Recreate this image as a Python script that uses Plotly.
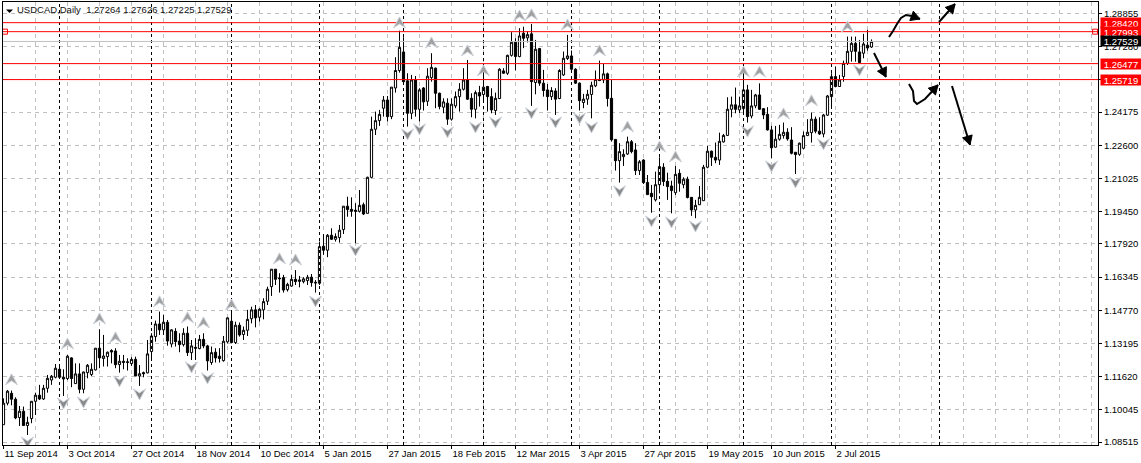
import math
import plotly.graph_objects as go

W, H = 1141, 463
L, R, T, B = 3, 43, 2, 18

open_ = [
1.0934,1.1036,1.1083,1.1055,1.0968,1.0998,1.0930,1.0963,1.1045,1.1074,
1.1056,1.1107,1.1146,1.1159,1.1197,1.1159,1.1153,1.1251,1.1129,1.1175,
1.1102,1.1181,1.1172,1.1194,1.1297,1.1248,1.1257,1.1286,1.1284,1.1219,
1.1235,1.1229,1.1224,1.1244,1.1165,1.1181,1.1180,1.1281,1.1352,1.1412,
1.1384,1.1420,1.1317,1.1377,1.1331,1.1314,1.1368,1.1276,1.1301,1.1295,
1.1339,1.1308,1.1229,1.1278,1.1259,1.1238,1.1327,1.1425,1.1324,1.1406,
1.1362,1.1382,1.1437,1.1479,1.1444,1.1479,1.1520,1.1589,1.1672,1.1630,
1.1632,1.1575,1.1592,1.1624,1.1621,1.1613,1.1618,1.1634,1.1610,1.1605,
1.1781,1.1762,1.1833,1.1814,1.1822,1.1860,1.1971,1.1956,1.1952,1.1947,
1.1978,1.1937,1.2108,1.2336,1.2377,1.2436,1.2475,1.2396,1.2532,1.2615,
1.2703,1.2566,1.2412,1.2570,1.2431,1.2532,1.2469,1.2581,1.2626,1.2507,
1.2441,1.2460,1.2384,1.2447,1.2491,1.2526,1.2570,1.2483,1.2431,1.2510,
1.2501,1.2539,1.2491,1.2425,1.2482,1.2613,1.2602,1.2687,1.2749,1.2681,
1.2792,1.2770,1.2789,1.2558,1.2719,1.2555,1.2523,1.2491,1.2518,1.2482,
1.2594,1.2672,1.2684,1.2621,1.2555,1.2463,1.2479,1.2501,1.2542,1.2573,
1.2570,1.2599,1.2483,1.2288,1.2187,1.2206,1.2219,1.2277,1.2238,1.2140,
1.2190,1.2084,1.2032,1.2001,1.2073,1.2156,1.2089,1.2067,1.2035,1.2127,
1.2073,1.2099,1.2013,1.1953,1.1978,1.1997,1.2156,1.2232,1.2203,1.2190,
1.2276,1.2307,1.2431,1.2452,1.2428,1.2434,1.2523,1.2399,1.2447,1.2499,
1.2434,1.2407,1.2333,1.2251,1.2289,1.2306,1.2322,1.2285,1.2227,1.2217,
1.2246,1.2306,1.2320,1.2384,1.2327,1.2314,1.2403,1.2491,1.2586,1.2539,
1.2586,1.2649,1.2706,1.2744,1.2703,1.2697,1.2735,1.27264]

high = [
1.1059,1.1099,1.1096,1.1064,1.1023,1.1020,1.0972,1.1045,1.1086,1.1123,
1.1123,1.1170,1.1170,1.1222,1.1217,1.1197,1.1265,1.1254,1.1225,1.1225,
1.1186,1.1222,1.1225,1.1297,1.1387,1.1360,1.1281,1.1292,1.1297,1.1265,
1.1265,1.1249,1.1254,1.1257,1.1217,1.1186,1.1336,1.1368,1.1428,1.1471,
1.1455,1.1431,1.1387,1.1392,1.1368,1.1392,1.1400,1.1336,1.1344,1.1360,
1.1368,1.1313,1.1305,1.1297,1.1297,1.1355,1.1444,1.1471,1.1423,1.1419,
1.1400,1.1479,1.1494,1.1502,1.1487,1.1534,1.1589,1.1672,1.1672,1.1653,
1.1645,1.1608,1.1645,1.1668,1.1640,1.1634,1.1645,1.1649,1.1621,1.1803,
1.1839,1.1839,1.1866,1.1842,1.1882,1.1971,1.2016,1.2013,1.1985,1.2048,
1.1988,1.2111,1.2396,1.2420,1.2428,1.2494,1.2494,1.2536,1.2678,1.2804,
1.2773,1.2602,1.2594,1.2589,1.2531,1.2536,1.2626,1.2697,1.2629,1.2510,
1.2483,1.2483,1.2483,1.2515,1.2555,1.2626,1.2665,1.2507,1.2520,1.2542,
1.2634,1.2542,1.2531,1.2510,1.2626,1.2626,1.2690,1.2797,1.2768,1.2816,
1.2823,1.2800,1.2836,1.2760,1.2722,1.2618,1.2551,1.2536,1.2531,1.2621,
1.2705,1.2784,1.2710,1.2626,1.2558,1.2504,1.2523,1.2562,1.2615,1.2662,
1.2646,1.2605,1.2570,1.2290,1.2270,1.2241,1.2301,1.2285,1.2270,1.2190,
1.2194,1.2119,1.2072,1.2135,1.2203,1.2175,1.2130,1.2092,1.2162,1.2146,
1.2108,1.2111,1.2014,1.2001,1.2067,1.2167,1.2257,1.2235,1.2273,1.2320,
1.2314,1.2488,1.2491,1.2534,1.2491,1.2618,1.2547,1.2523,1.2504,1.2554,
1.2436,1.2441,1.2352,1.2352,1.2357,1.2368,1.2341,1.2346,1.2228,1.2273,
1.2325,1.2384,1.2415,1.2396,1.2393,1.2409,1.2499,1.2602,1.2634,1.2594,
1.2662,1.2776,1.2776,1.2776,1.2760,1.2789,1.2808,1.27626]

low = [
1.0934,1.1026,1.1026,1.0960,1.0928,1.0928,1.0885,1.0941,1.0980,1.1051,
1.1051,1.1086,1.1123,1.1154,1.1154,1.1070,1.1146,1.1112,1.1127,1.1083,
1.1083,1.1154,1.1165,1.1191,1.1202,1.1210,1.1210,1.1225,1.1202,1.1181,
1.1197,1.1191,1.1213,1.1165,1.1118,1.1159,1.1178,1.1249,1.1328,1.1360,
1.1360,1.1309,1.1301,1.1305,1.1278,1.1305,1.1260,1.1241,1.1241,1.1292,
1.1297,1.1191,1.1218,1.1229,1.1229,1.1233,1.1320,1.1320,1.1317,1.1352,
1.1336,1.1355,1.1415,1.1396,1.1423,1.1434,1.1502,1.1545,1.1597,1.1561,
1.1561,1.1566,1.1589,1.1597,1.1586,1.1605,1.1597,1.1589,1.1561,1.1597,
1.1740,1.1729,1.1811,1.1803,1.1798,1.1839,1.1921,1.1921,1.1795,1.1941,
1.1929,1.1937,1.2104,1.2309,1.2352,1.2396,1.2373,1.2384,1.2510,1.2605,
1.2555,1.2349,1.2384,1.2396,1.2373,1.2425,1.2447,1.2562,1.2436,1.2431,
1.2412,1.2357,1.2377,1.2436,1.2420,1.2520,1.2475,1.2393,1.2388,1.2444,
1.2475,1.2420,1.2412,1.2404,1.2479,1.2599,1.2594,1.2681,1.2615,1.2678,
1.2721,1.2748,1.2447,1.2502,1.2542,1.2491,1.2425,1.2475,1.2404,1.2479,
1.2589,1.2665,1.2618,1.2551,1.2425,1.2436,1.2452,1.2388,1.2536,1.2567,
1.2555,1.2444,1.2278,1.2140,1.2083,1.2162,1.2214,1.2222,1.2119,1.2119,
1.2076,1.2024,1.1940,1.1993,1.2032,1.2067,1.2001,1.1937,1.2024,1.2040,
1.2056,1.2008,1.1925,1.1914,1.1977,1.1996,1.2151,1.2162,1.2175,1.2167,
1.2273,1.2304,1.2393,1.2412,1.2412,1.2415,1.2368,1.2388,1.2436,1.2428,
1.2384,1.2330,1.2198,1.2249,1.2282,1.2292,1.2282,1.2217,1.2124,1.2210,
1.2241,1.2304,1.2273,1.2317,1.2309,1.2298,1.2399,1.2441,1.2535,1.2539,
1.2562,1.2641,1.2657,1.2657,1.2649,1.2673,1.2709,1.27225]

close = [
1.1036,1.1093,1.1055,1.0966,1.0998,1.0930,1.0945,1.1045,1.1074,1.1056,
1.1107,1.1154,1.1164,1.1202,1.1159,1.1151,1.1259,1.1153,1.1175,1.1102,
1.1184,1.1216,1.1197,1.1297,1.1251,1.1260,1.1278,1.1279,1.1219,1.1235,
1.1230,1.1232,1.1244,1.1165,1.1176,1.1176,1.1270,1.1355,1.1412,1.1384,
1.1420,1.1331,1.1384,1.1328,1.1314,1.1368,1.1276,1.1308,1.1297,1.1339,
1.1308,1.1237,1.1276,1.1251,1.1248,1.1330,1.1441,1.1324,1.1406,1.1360,
1.1382,1.1434,1.1479,1.1441,1.1482,1.1518,1.1577,1.1672,1.1624,1.1627,
1.1573,1.1600,1.1624,1.1613,1.1615,1.1626,1.1634,1.1608,1.1607,1.1779,
1.1762,1.1833,1.1814,1.1827,1.1857,1.1971,1.1955,1.1947,1.1947,1.1975,
1.1934,1.2108,1.2336,1.2377,1.2407,1.2475,1.2396,1.2536,1.2615,1.2725,
1.2562,1.2412,1.2570,1.2431,1.2523,1.2466,1.2588,1.2630,1.2507,1.2444,
1.2466,1.2384,1.2455,1.2491,1.2526,1.2570,1.2479,1.2431,1.2510,1.2494,
1.2536,1.2491,1.2428,1.2483,1.2621,1.2602,1.2687,1.2749,1.2681,1.2779,
1.2768,1.2785,1.2562,1.2716,1.2555,1.2520,1.2491,1.2520,1.2479,1.2615,
1.2673,1.2684,1.2621,1.2555,1.2472,1.2479,1.2502,1.2545,1.2573,1.2567,
1.2599,1.2482,1.2286,1.2187,1.2230,1.2217,1.2277,1.2230,1.2140,1.2182,
1.2083,1.2026,1.2016,1.2073,1.2159,1.2088,1.2064,1.2045,1.2122,1.2080,
1.2099,1.2012,1.1953,1.1975,1.2013,1.2156,1.2232,1.2203,1.2190,1.2279,
1.2307,1.2431,1.2452,1.2431,1.2447,1.2523,1.2396,1.2447,1.2499,1.2431,
1.2404,1.2333,1.2248,1.2289,1.2312,1.2322,1.2290,1.2222,1.2216,1.2270,
1.2306,1.2322,1.2384,1.2327,1.2314,1.2404,1.2494,1.2586,1.2539,1.2570,
1.2649,1.2706,1.2744,1.2706,1.2653,1.2741,1.2722,1.27529]

date_labels = ["11 Sep 2014","3 Oct 2014","27 Oct 2014","18 Nov 2014","10 Dec 2014","5 Jan 2015",
               "27 Jan 2015","18 Feb 2015","12 Mar 2015","3 Apr 2015","27 Apr 2015","19 May 2015",
               "10 Jun 2015","2 Jul 2015"]
price_ticks = [1.28855,1.27280,1.25705,1.24175,1.22600,1.21025,1.19450,1.17920,1.16345,1.14770,
               1.13195,1.11620,1.10045,1.08515]
red_levels = [1.28420,1.27993,1.26477,1.25719]
bid_level = 1.27529
period_bars = [14,37,57,79,100,120,142,164,185,207,234]

up_x = [2,16,24,28,39,46,50,57,69,73,99,107,116,120,129,132,141,149,156,164,168,185,189,195,202,211]
up_y = [1.1147,1.1317,1.1436,1.1346,1.1517,1.1441,1.1417,1.1502,1.1721,1.1716,1.2841,1.2746,1.2708,
        1.2613,1.2874,1.2879,1.2831,1.2708,1.2347,1.2252,1.2205,1.2608,1.2608,1.2409,1.2471,1.2822]
dn_x = [6,15,20,29,34,47,51,78,88,101,104,111,118,123,132,138,144,147,154,162,167,173,186,192,198,205,214]
dn_y = [1.0852,1.1037,1.1042,1.1142,1.1080,1.1208,1.1156,1.1521,1.1763,1.2314,1.2338,1.2324,1.2347,
        1.2371,1.2414,1.2371,1.2390,1.2347,1.2044,1.1901,1.1896,1.1877,1.2328,1.2162,1.2086,1.2267,1.2618]

x_range = [-0.125, 273.625]
y_range = [1.08376, 1.29401]
PW, PH = W - L - R, H - T - B
def px(x): return (x - L) / PW
def py(y): return 1 - (y - T) / PH

bars = list(range(len(close)))
fig = go.Figure()
fig.add_trace(go.Candlestick(
    x=bars, open=open_, high=high, low=low, close=close,
    increasing=dict(line=dict(color="black", width=1), fillcolor="white"),
    decreasing=dict(line=dict(color="black", width=1), fillcolor="black"),
    whiskerwidth=0, showlegend=False, hoverinfo="skip"))

shapes = []
for b in period_bars:
    shapes.append(dict(type="line", xref="x", yref="paper", x0=b, x1=b, y0=0, y1=1,
                       line=dict(color="black", width=1, dash="3px,3px")))
shapes.append(dict(type="line", xref="paper", yref="y", x0=0, x1=1, y0=bid_level, y1=bid_level,
                   line=dict(color="#c0c0c0", width=1)))
for lv in red_levels:
    shapes.append(dict(type="line", xref="paper", yref="y", x0=0, x1=1, y0=lv, y1=lv,
                       line=dict(color="#ff0000", width=1)))

# fractal marks: notched arrowheads anchored on the data, sized in pixels
UP_PATH = "M 0 6 L 6 -5 L 0 -1 L -6 -5 Z"
DN_PATH = "M 0 -6 L 6 5 L 0 1 L -6 5 Z"
for xs, ys, path, fill in ((up_x, up_y, UP_PATH, "#a0a0a0"), (dn_x, dn_y, DN_PATH, "#8a8a8a")):
    for a, c in zip(xs, ys):
        shapes.append(dict(type="path", xref="x", yref="y", xsizemode="pixel", ysizemode="pixel",
                           xanchor=a, yanchor=c, path=path, fillcolor=fill,
                           line=dict(color="#cdd3db", width=1)))

def triangle(p0, p1, length=9, half=5):
    dx, dy = p1[0]-p0[0], p1[1]-p0[1]
    n = math.hypot(dx, dy); ux, uy = dx/n, dy/n
    bx, by = p1[0]-ux*length, p1[1]-uy*length
    pts = [p1, (bx-uy*half, by+ux*half), (bx+uy*half, by-ux*half)]
    return "M " + " L ".join(f"{px(a):.5f},{py(c):.5f}" for a, c in pts) + " Z"

strokes = [
    [(889,37),(893,31),(897,24),(901,18),(906,15),(912,16),(920,19)],
    [(939,22),(955,4)],
    [(874,53),(886,77)],
    [(909,84),(913,91),(914,101),(917,104),(925,99),(938,85)],
    [(952,86),(970,145)],
]
for s in strokes:
    path = "M " + " L ".join(f"{px(a):.5f},{py(c):.5f}" for a, c in s)
    shapes.append(dict(type="path", xref="paper", yref="paper", path=path,
                       line=dict(color="black", width=2)))
    shapes.append(dict(type="path", xref="paper", yref="paper", path=triangle(s[-2], s[-1]),
                       fillcolor="black", line=dict(color="black", width=1)))
shapes.append(dict(type="path", xref="paper", yref="paper",
                   path=f"M {px(6):.5f},{py(9.5):.5f} L {px(13):.5f},{py(9.5):.5f} L {px(9.5):.5f},{py(13):.5f} Z",
                   fillcolor="black", line=dict(width=0)))

# end handles of the selected level
fig.add_trace(go.Scatter(x=[0.375, 272.9], y=[red_levels[1]]*2, mode="markers", showlegend=False, hoverinfo="skip",
    marker=dict(symbol="square", size=5, color="white", line=dict(color="#ff0000", width=1))))

FONT = "Liberation Sans"
annotations = []
def level_label(v, bg):
    annotations.append(dict(xref="paper", yref="y", x=1.0, y=v, xanchor="left", yanchor="middle",
        text=f"{v:.5f}", showarrow=False, bgcolor=bg, width=40, height=10, align="center", xshift=2,
        borderpad=0, font=dict(family=FONT, size=9.5, color="white")))
for lv in red_levels:
    level_label(lv, "#ff0000")
level_label(bid_level, "black")
annotations.append(dict(xref="paper", yref="paper", x=px(15), y=py(10), xanchor="left", yanchor="middle",
    text="USDCAD,Daily  1.27264 1.27626 1.27225 1.27529", showarrow=False,
    font=dict(family=FONT, size=9.5, color="#111111")))

fig.update_layout(
    width=W, height=H, margin=dict(l=L, r=R, t=T, b=B), paper_bgcolor="white", plot_bgcolor="white",
    shapes=shapes, annotations=annotations, showlegend=False, boxgap=0.22,
    font=dict(family=FONT, size=9.5, color="black"),
    xaxis=dict(range=x_range, rangeslider=dict(visible=False), tickmode="array",
               tickvals=[16*i for i in range(len(date_labels))], ticktext=date_labels, tickangle=0,
               automargin=False, ticklabelposition="outside right", ticks="outside", ticklen=3, tickcolor="black",
               showgrid=True, gridcolor="#c0c0c0", griddash="4px,4px", gridwidth=1,
               minor=dict(tickmode="linear", tick0=0, dtick=8, showgrid=True, gridcolor="#c0c0c0",
                          griddash="4px,4px", gridwidth=1, ticks=""),
               showline=True, linecolor="black", linewidth=1, mirror=True, zeroline=False,
               tickfont=dict(family=FONT, size=9.5, color="black"), fixedrange=True),
    yaxis=dict(range=y_range, side="right", automargin=False, tickmode="array", tickvals=price_ticks,
               ticktext=[f"{v:.5f}" for v in price_ticks], ticks="outside", ticklen=3, tickcolor="black",
               showgrid=True, gridcolor="#c0c0c0", griddash="4px,4px", gridwidth=1,
               showline=True, linecolor="black", linewidth=1, mirror=True, zeroline=False,
               tickfont=dict(family=FONT, size=9.5, color="black"), fixedrange=True),
)
fig.write_html("out.html", config=dict(displayModeBar=False),
               post_script="document.body.style.margin='0';document.body.style.overflow='hidden';")
